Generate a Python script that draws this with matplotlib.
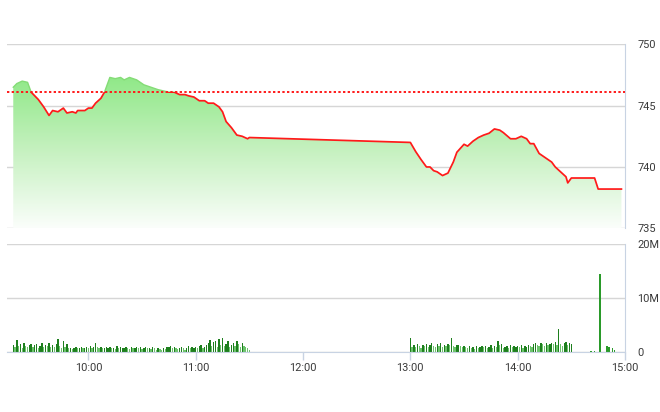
import numpy as np
import matplotlib
matplotlib.use("Agg")
import matplotlib.pyplot as plt
from matplotlib.colors import LinearSegmentedColormap
from matplotlib.patches import Rectangle

plt.rcParams['font.family'] = ['Roboto', 'DejaVu Sans']

# intraday index
price_times = ["09:18", "09:20", "09:23", "09:26", "09:28", "09:32", "09:35", "09:38", "09:40",
               "09:43", "09:46", "09:48", "09:51", "09:53", "09:54", "09:58", "10:00", "10:02",
               "10:04", "10:07", "10:09", "10:12", "10:15", "10:18", "10:20", "10:23", "10:27",
               "10:31", "10:35", "10:39", "10:42", "10:45", "10:48", "10:51", "10:54", "10:56",
               "10:59", "11:02", "11:05", "11:07", "11:10", "11:13", "11:15", "11:17", "11:20",
               "11:23", "11:26", "11:29", "11:30",
               "13:00", "13:03", "13:06", "13:09", "13:11", "13:13", "13:15", "13:18", "13:21",
               "13:24", "13:26", "13:30", "13:32", "13:35", "13:38", "13:41", "13:44", "13:47",
               "13:50", "13:52", "13:56", "13:59", "14:02", "14:05", "14:07", "14:09", "14:12",
               "14:16", "14:19", "14:21", "14:24", "14:27", "14:28", "14:30", "14:43", "14:45",
               "14:58"]
price_values = [746.5, 746.8, 747.0, 746.9, 746.1, 745.5, 744.9, 744.2, 744.6,
                744.5, 744.8, 744.4, 744.5, 744.4, 744.6, 744.6, 744.8, 744.8,
                745.2, 745.6, 746.1, 747.3, 747.2, 747.3, 747.1, 747.3, 747.1,
                746.7, 746.5, 746.3, 746.2, 746.1, 746.1, 745.9, 745.9, 745.8,
                745.7, 745.4, 745.4, 745.2, 745.2, 744.9, 744.5, 743.7, 743.2,
                742.6, 742.5, 742.3, 742.4,
                742.0, 741.25, 740.6, 740.0, 740.0, 739.7, 739.6, 739.3, 739.5,
                740.4, 741.2, 741.85, 741.7, 742.1, 742.4, 742.6, 742.75, 743.1,
                743.0, 742.8, 742.3, 742.3, 742.5, 742.3, 741.9, 741.9, 741.1,
                740.7, 740.4, 740.0, 739.6, 739.2, 738.7, 739.1, 739.1, 738.2,
                738.2]
ref_price = 746.1

# volume per minute (millions of shares)
vol_am_start = "09:18"
vol_am = [1.2, 0.9, 2.2, 1.0, 1.4, 0.7, 1.6, 1.1, 0.8, 1.3,
          1.5, 0.9, 1.2, 1.4, 0.6, 1.1, 1.6, 0.9, 1.3, 1.0,
          1.7, 0.8, 1.2, 0.9, 1.5, 2.4, 1.0, 0.7, 2.0, 0.9,
          1.4, 0.6, 0.7, 0.5, 0.6, 0.8, 0.6, 0.7, 0.9, 0.6,
          0.7, 0.8, 0.6, 1.0, 0.7, 0.9, 1.6, 0.8, 0.6, 0.9,
          0.7, 0.6, 0.8, 0.7, 0.9, 0.6, 0.7, 0.5, 1.0, 0.6,
          0.8, 0.7, 0.6, 0.9, 0.7, 0.5, 0.8, 0.6, 0.7, 0.9,
          0.6, 0.8, 0.5, 0.7, 0.9, 0.6, 0.7, 0.5, 0.8, 0.6,
          0.4, 0.7, 0.5, 0.3, 0.6, 0.5, 0.8, 0.9, 1.0, 0.7,
          0.9, 0.6, 0.5, 0.7, 0.8, 0.6, 0.4, 0.7, 1.0, 0.6,
          0.8, 0.7, 0.9, 0.6, 1.1, 1.3, 0.7, 0.9, 1.2, 1.6,
          2.2, 1.0, 1.8, 2.0, 0.9, 2.4, 1.2, 2.6, 1.1, 1.5,
          2.0, 0.9, 1.3, 1.7, 1.0, 2.0, 1.4, 0.8, 1.6, 1.1,
          0.9, 0.6, 0.4]
vol_pm_start = "13:00"
vol_pm = [2.6, 0.9, 1.2, 0.8, 1.4, 1.1, 0.7, 1.3, 1.0, 1.5,
          0.9, 1.2, 1.6, 1.0, 0.8, 1.4, 1.1, 1.7, 0.9, 1.3,
          1.0, 1.5, 1.2, 2.5, 1.1, 0.9, 1.3, 1.2, 1.0, 0.8,
          1.1, 0.9, 0.7, 1.0, 0.6, 0.8, 0.5, 1.0, 0.7, 0.9,
          1.1, 0.8, 1.0, 0.6, 0.9, 1.2, 0.7, 1.0, 0.8, 1.9,
          1.3, 1.5, 0.7, 0.9, 1.0, 0.6, 1.2, 0.8, 1.0, 0.9,
          1.1, 0.8, 1.2, 0.7, 1.0, 0.9, 1.3, 1.1, 0.8, 1.5,
          1.6, 1.2, 1.0, 1.7, 1.4, 1.1, 1.6, 1.3, 1.5, 1.7,
          1.4, 1.8, 1.2, 4.3, 1.5, 1.0, 1.6, 1.8, 1.3, 1.7,
          1.5]
vol_late_times = ["14:41", "14:43", "14:46", "14:50", "14:51", "14:53", "14:54"]
vol_late = [0.1, 0.15, 14.4, 1.1, 0.8, 0.6, 0.4]

hour_ticks = ["10:00", "11:00", "12:00", "13:00", "14:00", "15:00"]


def hm(s):
    h, m = s.split(":")
    return int(h) + int(m) / 60.0


t = np.array([hm(s) for s in price_times])
p = np.array(price_values)
t_am = hm(vol_am_start) + np.arange(len(vol_am)) / 60.0
t_pm = hm(vol_pm_start) + np.arange(len(vol_pm)) / 60.0
t_late = np.array([hm(s) for s in vol_late_times])

x0, x1 = hm("09:14") + 0.5 / 60, hm("15:00")
grid_c = '#d6d6d6'
axis_c = '#c8d3e3'
text_c = '#3a3a3a'
fs = 7.9

fig = plt.figure(figsize=(6.6, 4.12), dpi=100)
ax = fig.add_axes([7 / 660, 183.7 / 412, 618 / 660, 184 / 412])
axv = fig.add_axes([7 / 660, 60.3 / 412, 618 / 660, 107.7 / 412])

# --- price panel ---
ymin, ymax = 735, 750
poly = ax.fill_between(t, p, ymin, color='none', lw=0)
cmap = LinearSegmentedColormap.from_list('g', ['#fbfefb', '#c6f1c0', '#8de885'])
grad = np.linspace(0, 1, 256).reshape(-1, 1)
im = ax.imshow(grad, extent=[x0, x1, ymin, 747.6], origin='lower', aspect='auto',
               cmap=cmap, zorder=1, interpolation='bicubic')
im.set_clip_path(poly.get_paths()[0], transform=ax.transData)

red_line, = ax.plot(t, p, color='#ff1a1a', lw=1.25, zorder=3)
red_line.set_clip_path(Rectangle((x0, ymin), x1 - x0, ref_price - ymin, transform=ax.transData))
green_line, = ax.plot(t, p, color='#84dc76', lw=1.0, zorder=3)
green_line.set_clip_path(Rectangle((x0, ref_price), x1 - x0, ymax - ref_price, transform=ax.transData))
ax.axhline(ref_price, color='#ff1a1a', lw=1.4, ls=(0, (1.2, 1.2)), zorder=4)

ax.set_xlim(x0, x1)
ax.set_ylim(ymin, ymax)
ax.set_yticks([735, 740, 745, 750])
ax.yaxis.tick_right()
ax.tick_params(axis='y', length=0, pad=9, labelsize=fs, colors=text_c)
ax.set_xticks([])
ax.grid(axis='y', color=grid_c, lw=1, zorder=0)
for s in ['left', 'bottom', 'top']:
    ax.spines[s].set_visible(False)
ax.spines['right'].set_color(axis_c)
ax.set_axisbelow(True)

# --- volume panel ---
def bar_colors(vals):
    cols = []
    prev = vals[0]
    for v in vals:
        cols.append('#1e7f1e' if v >= prev * 0.85 else '#6cc46c')
        prev = v
    return cols

w = 0.75 / 60
axv.bar(t_am, vol_am, width=w, color=bar_colors(vol_am), lw=0, zorder=2)
axv.bar(t_pm, vol_pm, width=w, color=bar_colors(vol_pm), lw=0, zorder=2)
axv.bar(t_late, vol_late, width=w, color='#2a9a2a', lw=0, zorder=2)

axv.set_xlim(x0, x1)
axv.set_ylim(0, 20)
axv.set_yticks([0, 10, 20])
axv.set_yticklabels(['0', '10M', '20M'])
axv.yaxis.tick_right()
axv.tick_params(axis='y', length=0, pad=9, labelsize=fs, colors=text_c)
axv.set_xticks([hm(s) for s in hour_ticks])
axv.set_xticklabels(hour_ticks)
axv.tick_params(axis='x', length=6, width=1, color=axis_c, pad=2, labelsize=fs, labelcolor=text_c)
axv.grid(axis='y', color=grid_c, lw=1, zorder=0)
axv.spines['left'].set_visible(False)
axv.spines['top'].set_visible(False)
axv.spines['right'].set_color(axis_c)
axv.spines['bottom'].set_color(axis_c)
axv.set_axisbelow(True)

fig.savefig("out.png", dpi=100)
